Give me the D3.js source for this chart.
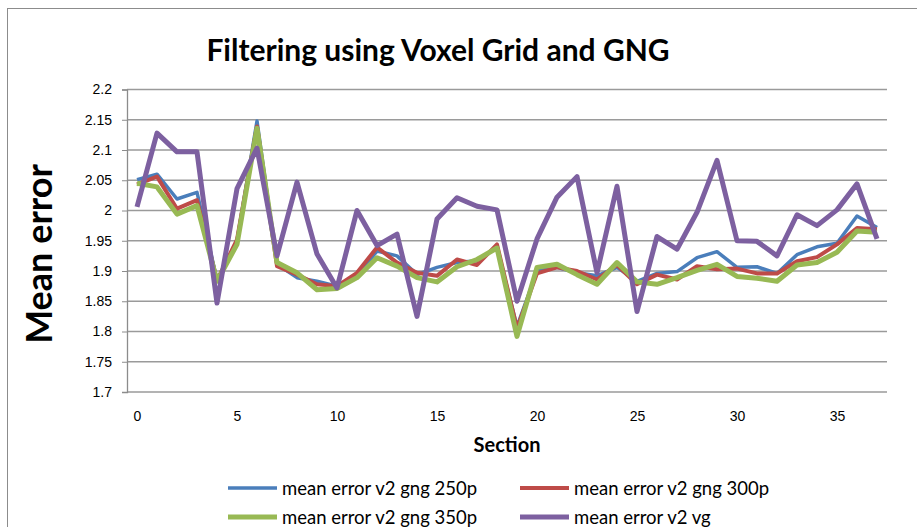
<!DOCTYPE html>
<html>
<head>
<meta charset="utf-8">
<script src="https://cdn.jsdelivr.net/npm/d3@7"></script>
<style>
  body { margin: 0; background: #fff; }
  svg { font-family: Lato, "Liberation Sans", sans-serif; }
</style>
</head>
<body>
<svg></svg>
<script>
// categories (section numbers) and the four series
let sections = [0,1,2,3,4,5,6,7,8,9,10,11,12,13,14,15,16,17,18,19,20,21,22,23,24,25,26,27,28,29,30,31,32,33,34,35,36,37]
let gng250 = [2.051,2.060,2.019,2.030,1.885,1.950,2.148,1.911,1.889,1.883,1.875,1.892,1.933,1.925,1.894,1.906,1.914,1.917,1.939,1.808,1.900,1.906,1.897,1.892,1.906,1.883,1.896,1.899,1.922,1.932,1.906,1.907,1.896,1.927,1.940,1.946,1.991,1.972]
let gng300 = [2.043,2.056,2.003,2.017,1.884,1.952,2.139,1.908,1.894,1.878,1.875,1.897,1.939,1.914,1.897,1.892,1.919,1.910,1.944,1.805,1.896,1.906,1.900,1.886,1.910,1.878,1.894,1.886,1.908,1.903,1.904,1.896,1.896,1.916,1.923,1.944,1.971,1.969]
let gng350 = [2.045,2.039,1.994,2.008,1.883,1.944,2.136,1.914,1.897,1.869,1.871,1.889,1.922,1.908,1.889,1.882,1.907,1.919,1.938,1.792,1.906,1.911,1.894,1.878,1.914,1.882,1.878,1.889,1.901,1.911,1.891,1.888,1.883,1.910,1.914,1.931,1.966,1.964]
let vg = [2.006,2.128,2.097,2.097,1.847,2.036,2.103,1.925,2.047,1.928,1.872,2.000,1.942,1.961,1.825,1.986,2.021,2.007,2.001,1.850,1.953,2.022,2.056,1.897,2.040,1.833,1.957,1.936,1.997,2.083,1.950,1.949,1.925,1.993,1.975,2.001,2.044,1.953]
let yTicks = [1.7,1.75,1.8,1.85,1.9,1.95,2,2.05,2.1,2.15,2.2]
let xTicks = [0,5,10,15,20,25,30,35]

let seriesNames = ['mean error v2 gng 250p','mean error v2 gng 300p','mean error v2 gng 350p','mean error v2 vg']
let seriesData = [gng250, gng300, gng350, vg]
let colors = ['#4a7ebb','#be4b48','#98b954','#7d60a0']
let widths = [3.5, 4, 5, 5]

let width = 917
let height = 527
// plot area edges
let plotLeft = 127, plotRight = 887, plotTop = 89.5, plotBottom = 392

let svg = d3.select('svg').attr('width', width).attr('height', height)

// chart frame
svg.append('rect')
    .attr('x', 7.5).attr('y', 8.5)
    .attr('width', 1000).attr('height', 1000)
    .attr('fill', 'none').attr('stroke', '#8c8c8c')

let xScale = d3.scalePoint().domain(sections).range([plotLeft, plotRight]).padding(0.5)
let yScale = d3.scaleLinear().domain([1.7, 2.2]).range([plotBottom, plotTop])

// gridlines
svg.append('g')
    .selectAll('line')
    .data(yTicks)
    .enter()
    .append('line')
    .attr('x1', plotLeft).attr('x2', plotRight)
    .attr('y1', d => yScale(d)).attr('y2', d => yScale(d))
    .attr('stroke', '#9a9a9a').attr('stroke-width', 1.3)

// y axis
let yAxis = d3.axisLeft(yScale).tickValues(yTicks).tickSize(5).tickPadding(10)
    .tickFormat(d => String(+d.toFixed(2)))
let gy = svg.append('g').attr('transform', 'translate(' + plotLeft + ',0)').call(yAxis)
gy.select('.domain').attr('stroke', '#8c8c8c').attr('stroke-width', 1.3)
gy.selectAll('.tick line').attr('stroke', '#8c8c8c')
gy.selectAll('text').attr('font-size', 14).attr('fill', '#000')

// x axis
let xAxis = d3.axisBottom(xScale).tickValues(xTicks).tickSize(0).tickPadding(19)
let gx = svg.append('g').attr('transform', 'translate(0,' + plotBottom + ')').call(xAxis)
gx.select('.domain').remove()
gx.selectAll('text').attr('font-size', 14).attr('fill', '#000')

// lines
let line = d3.line()
    .x((d, i) => xScale(sections[i]))
    .y(d => yScale(d))

svg.append('g')
    .selectAll('path')
    .data(seriesData)
    .enter()
    .append('path')
    .attr('d', d => line(d))
    .attr('fill', 'none')
    .attr('stroke', (d, i) => colors[i])
    .attr('stroke-width', (d, i) => widths[i])
    .attr('stroke-linejoin', 'round')

// titles
svg.append('text')
    .attr('x', 438).attr('y', 61)
    .attr('text-anchor', 'middle')
    .attr('font-size', 30).attr('font-weight', 'bold')
    .text('Filtering using Voxel Grid and GNG')

svg.append('text')
    .attr('x', 507).attr('y', 452)
    .attr('text-anchor', 'middle')
    .attr('font-size', 20).attr('font-weight', 'bold')
    .text('Section')

svg.append('text')
    .attr('transform', 'translate(52,254) rotate(-90)')
    .attr('text-anchor', 'middle')
    .attr('font-size', 36).attr('font-weight', 'bold')
    .text('Mean error')

// legend
let legendPos = [[228, 488], [520, 488], [228, 517], [520, 517]]
let legend = svg.append('g')
    .selectAll('g')
    .data(seriesNames)
    .enter()
    .append('g')
    .attr('transform', (d, i) => 'translate(' + legendPos[i][0] + ',' + legendPos[i][1] + ')')

legend.append('line')
    .attr('x1', 0).attr('x2', 49)
    .attr('stroke', (d, i) => colors[i])
    .attr('stroke-width', (d, i) => widths[i])

legend.append('text')
    .attr('x', 54).attr('y', 6.5)
    .attr('font-size', 18.5)
    .text(d => d)
</script>
</body>
</html>
